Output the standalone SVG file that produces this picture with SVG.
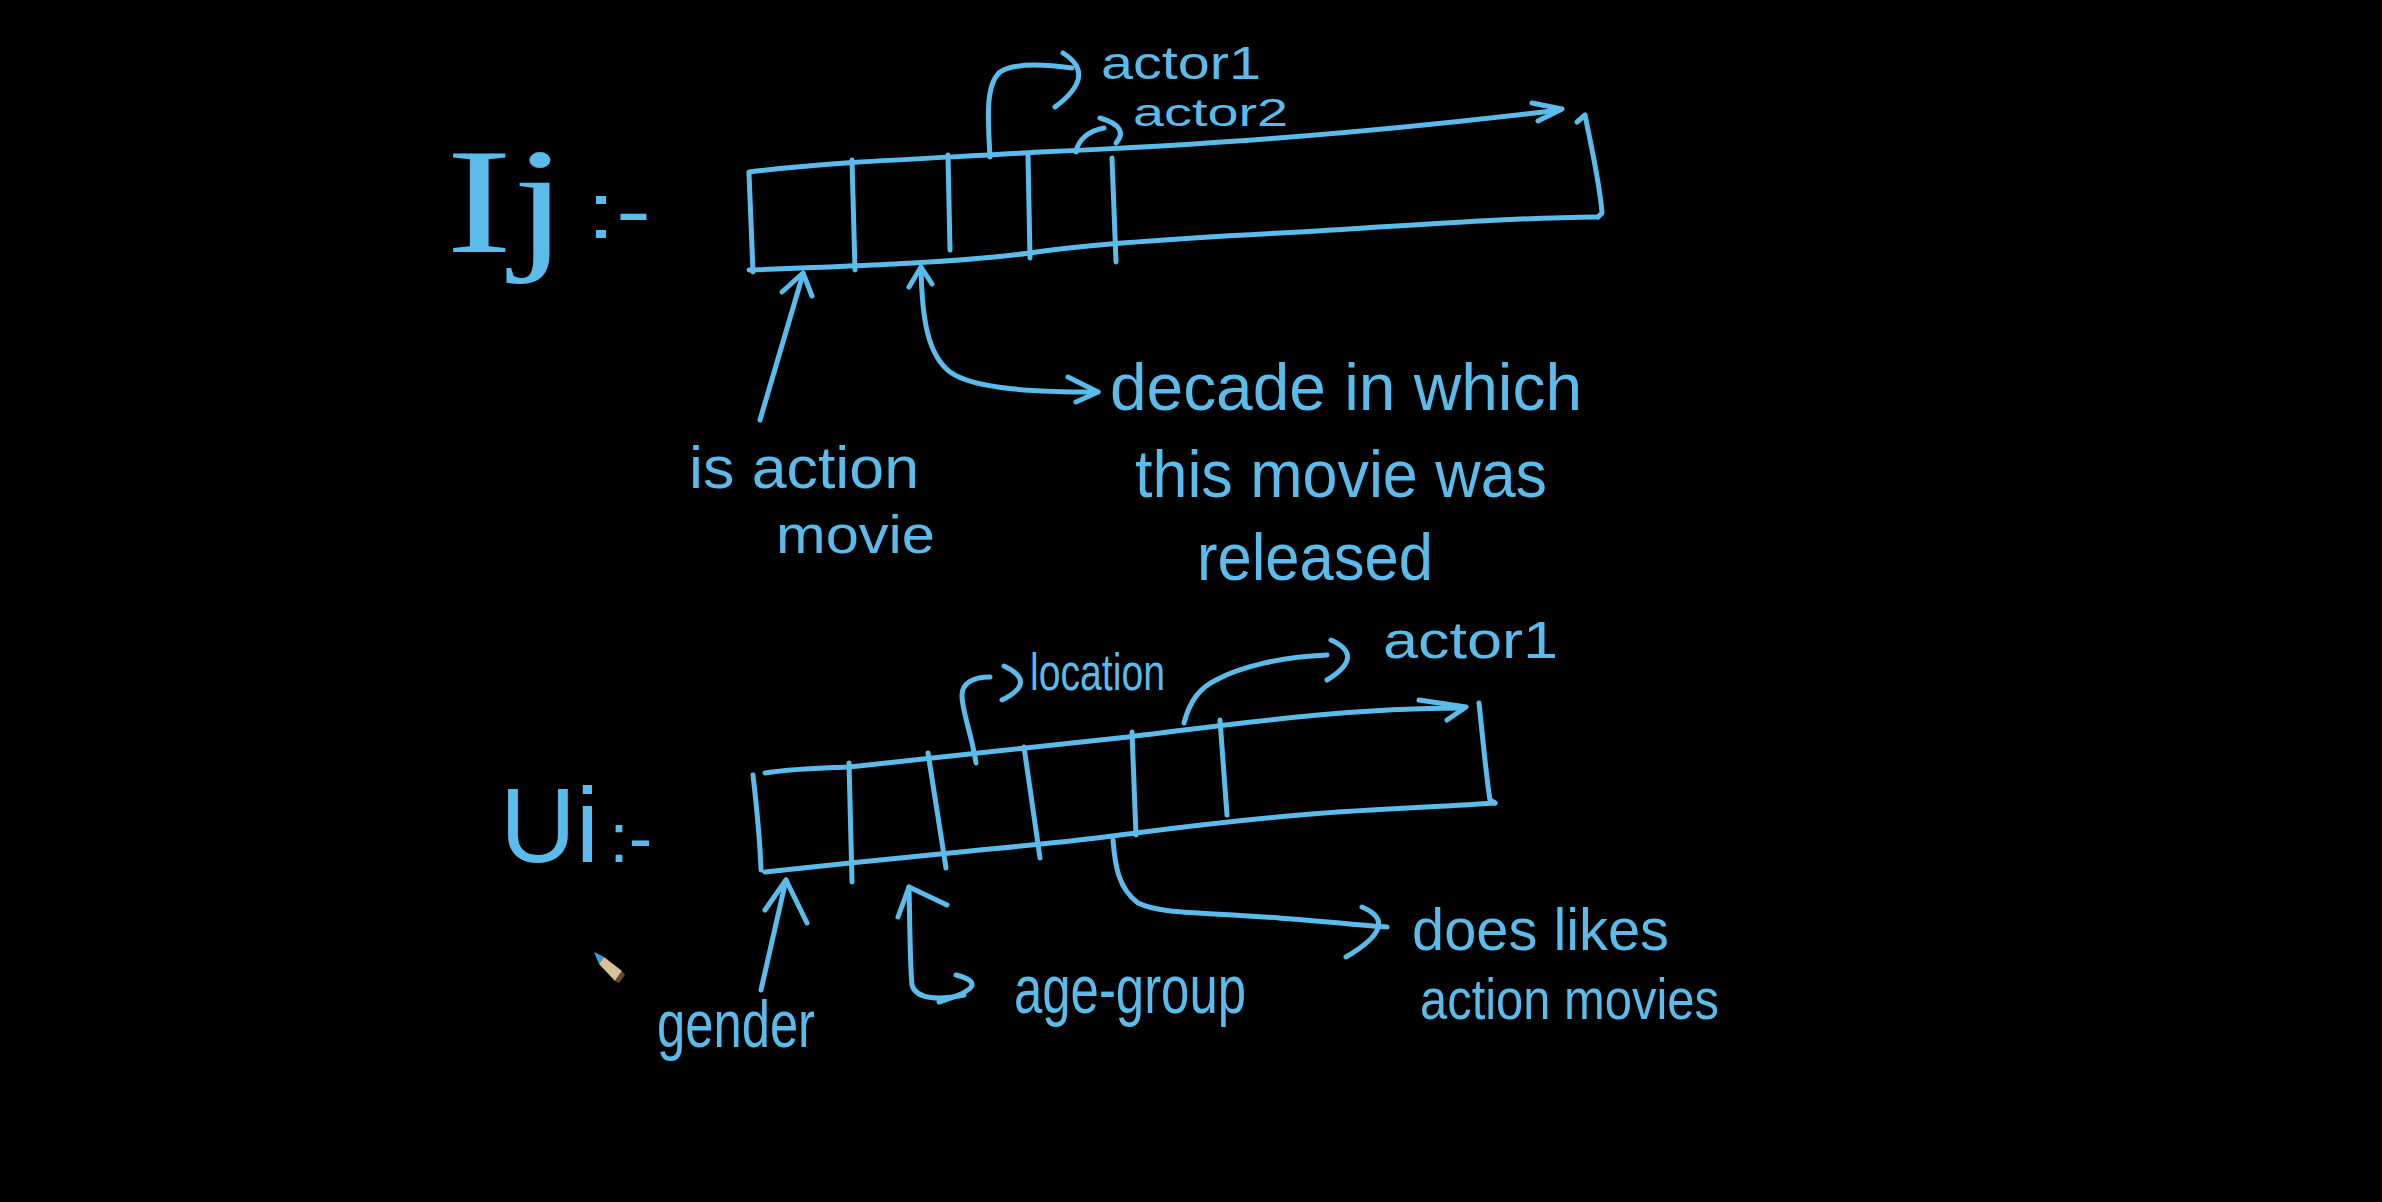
<svg xmlns="http://www.w3.org/2000/svg" width="2382" height="1202" viewBox="0 0 2382 1202">
<style>
.s{fill:none;stroke:#5bbcec;stroke-width:5;stroke-linecap:round;stroke-linejoin:round}
.t{fill:#5bbcec;font-family:"Liberation Sans","DejaVu Sans",sans-serif}
.h{font-family:"Liberation Serif","DejaVu Serif",serif}
</style>
<rect x="0" y="0" width="2382" height="1202" fill="#000"/>

<g id="label-Ij">
<text class="t" x="446" y="252" font-size="150" textLength="205" lengthAdjust="spacingAndGlyphs"><tspan class="h">Ij</tspan><tspan font-size="80" dx="14" dy="-14">:-</tspan></text>
</g>

<g id="item-vector">
<path class="s" d="M749,172 C850,160 950,158 1040,152 C1200,145 1350,135 1560,110"/>
<path class="s" d="M1532,103 L1562,109 L1538,121"/>
<path class="s" d="M1577,122 L1585,115 C1592,150 1600,185 1602,213 L1598,217"/>
<path class="s" d="M1598,217 C1500,218 1420,225 1300,232 C1180,238 1080,245 1030,253 C960,262 880,265 749,270"/>
<path class="s" d="M749,173 L753,272"/>
<path class="s" d="M852,160 L855,270"/>
<path class="s" d="M948,155 L950,250"/>
<path class="s" d="M1028,155 L1030,258"/>
<path class="s" d="M1112,158 L1116,262"/>
</g>

<g id="label-actor1-top"><text class="t" x="1101" y="79" font-size="46" textLength="160" lengthAdjust="spacingAndGlyphs">actor1</text></g>
<g id="label-actor2"><text class="t" x="1133" y="126" font-size="38" textLength="155" lengthAdjust="spacingAndGlyphs">actor2</text></g>
<g id="label-is-action-movie">
<text class="t" x="689" y="488" font-size="60" textLength="230" lengthAdjust="spacingAndGlyphs">is action</text>
<text class="t" x="776" y="553" font-size="54" textLength="159" lengthAdjust="spacingAndGlyphs">movie</text>
</g>
<g id="label-decade">
<text class="t" x="1110" y="410" font-size="66" textLength="472" lengthAdjust="spacingAndGlyphs">decade in which</text>
<text class="t" x="1135" y="497" font-size="66" textLength="412" lengthAdjust="spacingAndGlyphs">this movie was</text>
<text class="t" x="1197" y="580" font-size="66" textLength="236" lengthAdjust="spacingAndGlyphs">released</text>
</g>

<g id="label-Ui">
<text class="t" x="500" y="862" font-size="105" textLength="152" lengthAdjust="spacingAndGlyphs">Ui<tspan font-size="70" dx="10">:-</tspan></text>
</g>

<g id="user-vector">
<path class="s" d="M765,773 C800,768 830,768 849,767 C950,757 1050,745 1128,737 C1250,722 1350,708 1463,708"/>
<path class="s" d="M1419,700 L1466,707 L1447,720"/>
<path class="s" d="M1479,703 C1483,740 1486,775 1490,800 L1495,803"/>
<path class="s" d="M1495,803 C1420,808 1350,810 1300,815 C1220,822 1160,830 1128,834 C1070,842 1010,847 950,853 C900,858 820,866 765,872"/>
<path class="s" d="M753,775 C757,810 760,840 761,870"/>
<path class="s" d="M849,763 L852,882"/>
<path class="s" d="M928,753 L946,868"/>
<path class="s" d="M1024,747 L1040,858"/>
<path class="s" d="M1132,732 L1136,835"/>
<path class="s" d="M1220,720 L1227,815"/>
</g>

<g id="label-location"><text class="t" x="1030" y="690" font-size="52" textLength="135" lengthAdjust="spacingAndGlyphs">location</text></g>
<g id="label-actor1-bottom"><text class="t" x="1383" y="658" font-size="52" textLength="175" lengthAdjust="spacingAndGlyphs">actor1</text></g>
<g id="label-gender"><text class="t" x="657" y="1047" font-size="66" textLength="158" lengthAdjust="spacingAndGlyphs">gender</text></g>
<g id="label-age-group"><text class="t" x="1014" y="1013" font-size="68" textLength="232" lengthAdjust="spacingAndGlyphs">age-group</text></g>
<g id="label-action-movies">
<text class="t" x="1412" y="950" font-size="60" textLength="257" lengthAdjust="spacingAndGlyphs">does likes</text>
<text class="t" x="1420" y="1019" font-size="58" textLength="299" lengthAdjust="spacingAndGlyphs">action movies</text>
</g>

<g id="connectors">
<path class="s" d="M990,157 C988,120 985,85 1000,72 C1015,62 1050,65 1072,68"/>
<path class="s" d="M1063,53 Q1098,75 1055,107"/>
<path class="s" d="M1076,152 C1078,140 1088,131 1104,128"/>
<path class="s" d="M1100,118 Q1130,127 1116,143"/>
<path class="s" d="M760,420 L803,274"/>
<path class="s" d="M782,292 L803,273 L812,296"/>
<path class="s" d="M921,268 C922,320 928,355 950,372 C975,390 1040,392 1098,392"/>
<path class="s" d="M909,287 L921,267 L932,284"/>
<path class="s" d="M1068,377 L1098,392 L1076,402"/>
<path class="s" d="M976,763 C972,735 962,712 962,695 C962,684 972,677 990,677"/>
<path class="s" d="M1004,666 Q1038,682 1002,700"/>
<path class="s" d="M1184,723 C1190,700 1200,688 1216,680 C1240,667 1280,657 1327,655"/>
<path class="s" d="M1331,640 Q1366,656 1327,680"/>
<path class="s" d="M786,880 L761,990"/>
<path class="s" d="M765,910 L786,880 L807,923"/>
<path class="s" d="M909,887 C910,930 910,965 912,985 C916,1000 940,1000 964,995"/>
<path class="s" d="M898,917 L909,887 L947,905"/>
<path class="s" d="M956,975 Q995,985 939,1002"/>
<path class="s" d="M1113,840 C1115,865 1118,888 1138,903 C1160,914 1200,912 1279,918 C1320,921 1360,925 1387,927"/>
<path class="s" d="M1362,907 Q1402,924 1346,957"/>
</g>

<g id="pencil-cursor">
<polygon points="594,952 604,957 599,964" fill="#3a9ee0"/>
<polygon points="599,964 604,957 622,971 615,981" fill="#d9c09b"/>
<polygon points="615,981 622,971 625,975 619,983" fill="#6b4a2f"/>
</g>
</svg>
